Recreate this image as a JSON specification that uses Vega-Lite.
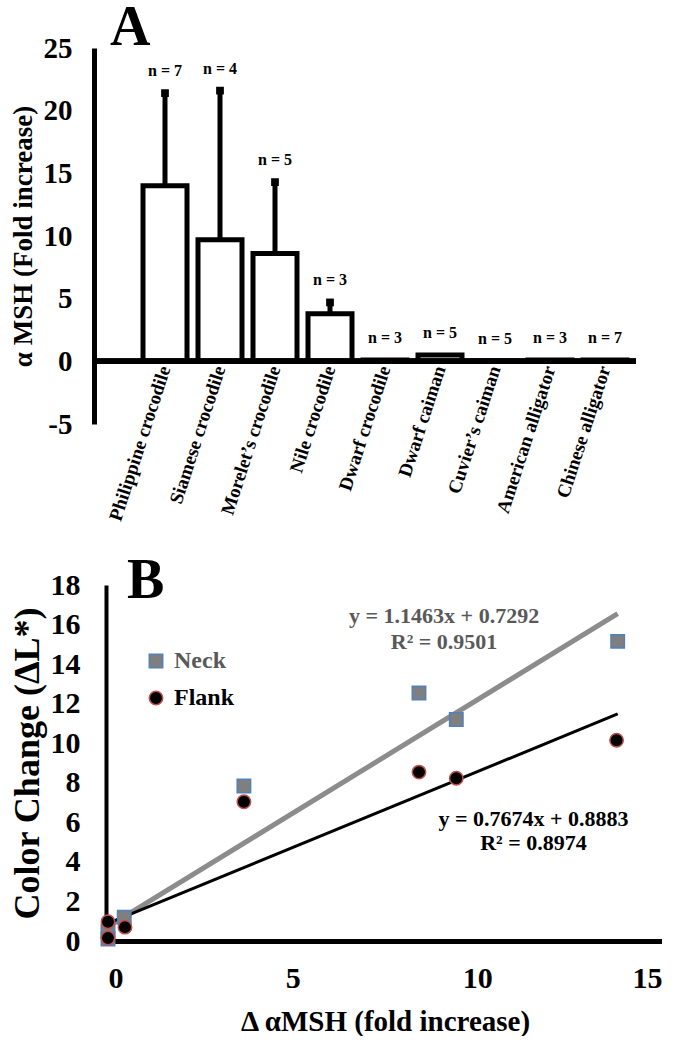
{
  "$schema": "https://vega.github.io/schema/vega-lite/v6.json",
  "background": "white",
  "padding": {"left": 9, "top": 0, "right": 0, "bottom": 0},
  "spacing": 30,
  "resolve": {"legend": {"shape": "independent", "fill": "independent", "stroke": "independent"}},
  "config": {
    "font": "Liberation Serif",
    "view": {"stroke": null},
    "axis": {"labelFont": "Liberation Serif", "titleFont": "Liberation Serif", "labelFontWeight": "bold", "titleFontWeight": "bold", "labelColor": "black", "titleColor": "black", "grid": false, "ticks": false, "domainColor": "black", "labelOverlap": false, "labelSeparation": 0},
    "axisQuantitative": {"labelOverlap": false},
    "title": {"font": "Liberation Serif", "fontWeight": "bold", "color": "black"},
    "legend": {"labelFont": "Liberation Serif", "labelFontWeight": "bold"}
  },
  "vconcat": [
    {
      "width": 542,
      "height": 376,
      "title": {"text": "A", "fontSize": 56, "anchor": "start", "frame": "group", "dx": 16, "offset": -23},
      "data": {"values": [
        {"species": "Philippine crocodile", "mean": 14.0, "err": 21.4, "nlabel": "n = 7"},
        {"species": "Siamese crocodile", "mean": 9.7, "err": 21.6, "nlabel": "n = 4"},
        {"species": "Morelet’s crocodile", "mean": 8.6, "err": 14.3, "nlabel": "n = 5"},
        {"species": "Nile crocodile", "mean": 3.8, "err": 4.7, "nlabel": "n = 3"},
        {"species": "Dwarf crocodile", "mean": 0.1, "err": 0.1, "nlabel": "n = 3"},
        {"species": "Dwarf caiman", "mean": 0.5, "err": 0.5, "nlabel": "n = 5"},
        {"species": "Cuvier’s caiman", "mean": 0.02, "err": 0.02, "nlabel": "n = 5"},
        {"species": "American alligator", "mean": 0.1, "err": 0.1, "nlabel": "n = 3"},
        {"species": "Chinese alligator", "mean": 0.1, "err": 0.1, "nlabel": "n = 7"}
      ]},
      "layer": [
        {
          "mark": {"type": "bar", "fill": "white", "stroke": "black", "strokeWidth": 5},
          "encoding": {
            "x": {"field": "species", "type": "nominal", "sort": null,
                  "scale": {"range": [49, 533], "paddingInner": 0.2, "paddingOuter": 0},
                  "axis": {"title": null, "labelAngle": -72, "labelFontSize": 19, "offset": -61, "domain": false, "labelPadding": 3, "labelAlign": "right", "labelBaseline": "middle", "labelLimit": 300}},
            "y": {"field": "mean", "type": "quantitative",
                  "scale": {"domain": [-5, 25], "nice": false, "zero": false},
                  "axis": {"title": "α MSH (Fold increase)", "titleFontSize": 27, "labelFontSize": 29, "values": [-5, 0, 5, 10, 15, 20, 25], "labelExpr": "'' + datum.value", "domainWidth": 5, "labelPadding": 22, "titlePadding": 6, "labelOverlap": false}}
          }
        },
        {
          "mark": {"type": "rule", "color": "black", "strokeWidth": 5},
          "encoding": {"y": {"datum": 0, "type": "quantitative"}}
        },
        {
          "transform": [{"filter": "datum.err > datum.mean + 0.3"}],
          "mark": {"type": "rule", "color": "black", "strokeWidth": 5},
          "encoding": {
            "x": {"field": "species", "type": "nominal", "sort": null},
            "y": {"field": "mean", "type": "quantitative"},
            "y2": {"field": "err"}
          }
        },
        {
          "transform": [{"filter": "datum.err > datum.mean + 0.3"}],
          "mark": {"type": "point", "shape": "square", "filled": true, "color": "black", "size": 60, "opacity": 1},
          "encoding": {
            "x": {"field": "species", "type": "nominal", "sort": null},
            "y": {"field": "err", "type": "quantitative"}
          }
        },
        {
          "mark": {"type": "text", "fontSize": 16, "fontWeight": "bold", "color": "black", "dy": -22, "baseline": "middle"},
          "encoding": {
            "x": {"field": "species", "type": "nominal", "sort": null},
            "y": {"field": "err", "type": "quantitative"},
            "text": {"field": "nlabel"}
          }
        }
      ]
    },
    {
      "width": 568,
      "height": 356,
      "title": {"text": "B", "fontSize": 56, "anchor": "start", "frame": "group", "dx": 33, "offset": -40},
      "layer": [
        {
          "data": {"values": [{"x": 0, "y": 0.7292}, {"x": 13.8, "y": 16.55}]},
          "mark": {"type": "line", "color": "#8c8c8c", "strokeWidth": 5},
          "encoding": {
            "x": {"field": "x", "type": "quantitative",
                  "scale": {"domain": [0, 15], "range": [14, 568], "nice": false},
                  "axis": {"title": "Δ αMSH (fold increase)", "titleFontSize": 29, "labelFontSize": 30, "values": [0, 5, 10, 15], "domainWidth": 5, "labelPadding": 22, "titlePadding": 14, "domainCap": "square", "labelOverlap": false}},
            "y": {"field": "y", "type": "quantitative",
                  "scale": {"domain": [0, 18], "nice": false},
                  "axis": {"title": "Color Change (ΔL*)", "titleFontSize": 36, "labelFontSize": 30, "values": [0, 2, 4, 6, 8, 10, 12, 14, 16, 18], "domainWidth": 4, "labelPadding": 26, "titlePadding": 4, "offset": -12, "labelOverlap": false, "labelSeparation": 0}}
          }
        },
        {
          "data": {"values": [{"x": 0, "y": 0.8883}, {"x": 13.8, "y": 11.48}]},
          "mark": {"type": "line", "color": "black", "strokeWidth": 3},
          "encoding": {
            "x": {"field": "x", "type": "quantitative",
                  "axis": {"title": "Δ αMSH (fold increase)", "titleFontSize": 29, "labelFontSize": 30, "values": [0, 5, 10, 15], "domainWidth": 5, "labelPadding": 22, "titlePadding": 14, "domainCap": "square", "labelOverlap": false}},
            "y": {"field": "y", "type": "quantitative",
                  "axis": {"title": "Color Change (ΔL*)", "titleFontSize": 36, "labelFontSize": 30, "values": [0, 2, 4, 6, 8, 10, 12, 14, 16, 18], "domainWidth": 4, "labelPadding": 26, "titlePadding": 4, "offset": -12, "labelOverlap": false, "labelSeparation": 0}}
          }
        },
        {
          "data": {"values": [
            {"series": "Neck", "x": 13.8, "y": 15.15},
            {"series": "Neck", "x": 8.42, "y": 12.54},
            {"series": "Neck", "x": 9.43, "y": 11.2},
            {"series": "Neck", "x": 3.68, "y": 7.84},
            {"series": "Neck", "x": 0.44, "y": 1.2},
            {"series": "Neck", "x": 0.0, "y": 0.5},
            {"series": "Neck", "x": 0.0, "y": 0.1},
            {"series": "Flank", "x": 13.77, "y": 10.15},
            {"series": "Flank", "x": 8.42, "y": 8.54},
            {"series": "Flank", "x": 9.43, "y": 8.23},
            {"series": "Flank", "x": 3.68, "y": 7.04},
            {"series": "Flank", "x": 0.46, "y": 0.7},
            {"series": "Flank", "x": 0.0, "y": 0.97},
            {"series": "Flank", "x": 0.0, "y": 0.15}
          ]},
          "mark": {"type": "point", "filled": true, "opacity": 1, "strokeWidth": 1.5, "size": 180},
          "encoding": {
            "x": {"field": "x", "type": "quantitative",
                  "axis": {"title": "Δ αMSH (fold increase)", "titleFontSize": 29, "labelFontSize": 30, "values": [0, 5, 10, 15], "domainWidth": 5, "labelPadding": 22, "titlePadding": 14, "domainCap": "square", "labelOverlap": false}},
            "y": {"field": "y", "type": "quantitative",
                  "axis": {"title": "Color Change (ΔL*)", "titleFontSize": 36, "labelFontSize": 30, "values": [0, 2, 4, 6, 8, 10, 12, 14, 16, 18], "domainWidth": 4, "labelPadding": 26, "titlePadding": 4, "offset": -12, "labelOverlap": false, "labelSeparation": 0}},
            "shape": {"field": "series", "type": "nominal", "scale": {"domain": ["Neck", "Flank"], "range": ["square", "circle"]},
                      "legend": {"orient": "none", "legendX": 50, "legendY": 64, "title": null, "labelFontSize": 24, "symbolSize": 180, "rowPadding": 13, "labelOffset": 6, "padding": 0, "symbolStrokeWidth": 1.5, "labelColor": {"expr": "datum.label == 'Neck' ? '#595959' : 'black'"}}},
            "fill": {"field": "series", "type": "nominal", "scale": {"domain": ["Neck", "Flank"], "range": ["#7f7f7f", "#000000"]},
                      "legend": {"orient": "none", "legendX": 50, "legendY": 64, "title": null, "labelFontSize": 24, "symbolSize": 180, "rowPadding": 13, "labelOffset": 6, "padding": 0, "symbolStrokeWidth": 1.5, "labelColor": {"expr": "datum.label == 'Neck' ? '#595959' : 'black'"}}},
            "stroke": {"field": "series", "type": "nominal", "scale": {"domain": ["Neck", "Flank"], "range": ["#4f81bd", "#c0504d"]},
                      "legend": {"orient": "none", "legendX": 50, "legendY": 64, "title": null, "labelFontSize": 24, "symbolSize": 180, "rowPadding": 13, "labelOffset": 6, "padding": 0, "symbolStrokeWidth": 1.5, "labelColor": {"expr": "datum.label == 'Neck' ? '#595959' : 'black'"}}}
          }
        },
        {
          "data": {"values": [
            {"eq": "y = 1.1463x + 0.7292", "ex": 9.1, "ey": 16.45, "grp": "neck"},
            {"eq": "R² = 0.9501", "ex": 9.1, "ey": 15.1, "grp": "neck"},
            {"eq": "y = 0.7674x + 0.8883", "ex": 11.52, "ey": 6.16, "grp": "flank"},
            {"eq": "R² = 0.8974", "ex": 11.52, "ey": 4.95, "grp": "flank"}
          ]},
          "mark": {"type": "text", "fontSize": 22, "fontWeight": "bold", "baseline": "middle"},
          "encoding": {
            "x": {"field": "ex", "type": "quantitative",
                  "axis": {"title": "Δ αMSH (fold increase)", "titleFontSize": 29, "labelFontSize": 30, "values": [0, 5, 10, 15], "domainWidth": 5, "labelPadding": 22, "titlePadding": 14, "domainCap": "square", "labelOverlap": false}},
            "y": {"field": "ey", "type": "quantitative",
                  "axis": {"title": "Color Change (ΔL*)", "titleFontSize": 36, "labelFontSize": 30, "values": [0, 2, 4, 6, 8, 10, 12, 14, 16, 18], "domainWidth": 4, "labelPadding": 26, "titlePadding": 4, "offset": -12, "labelOverlap": false, "labelSeparation": 0}},
            "text": {"field": "eq"},
            "color": {"field": "grp", "type": "nominal", "scale": {"domain": ["neck", "flank"], "range": ["#595959", "#000000"]}, "legend": null}
          }
        }
      ]
    }
  ]
}
